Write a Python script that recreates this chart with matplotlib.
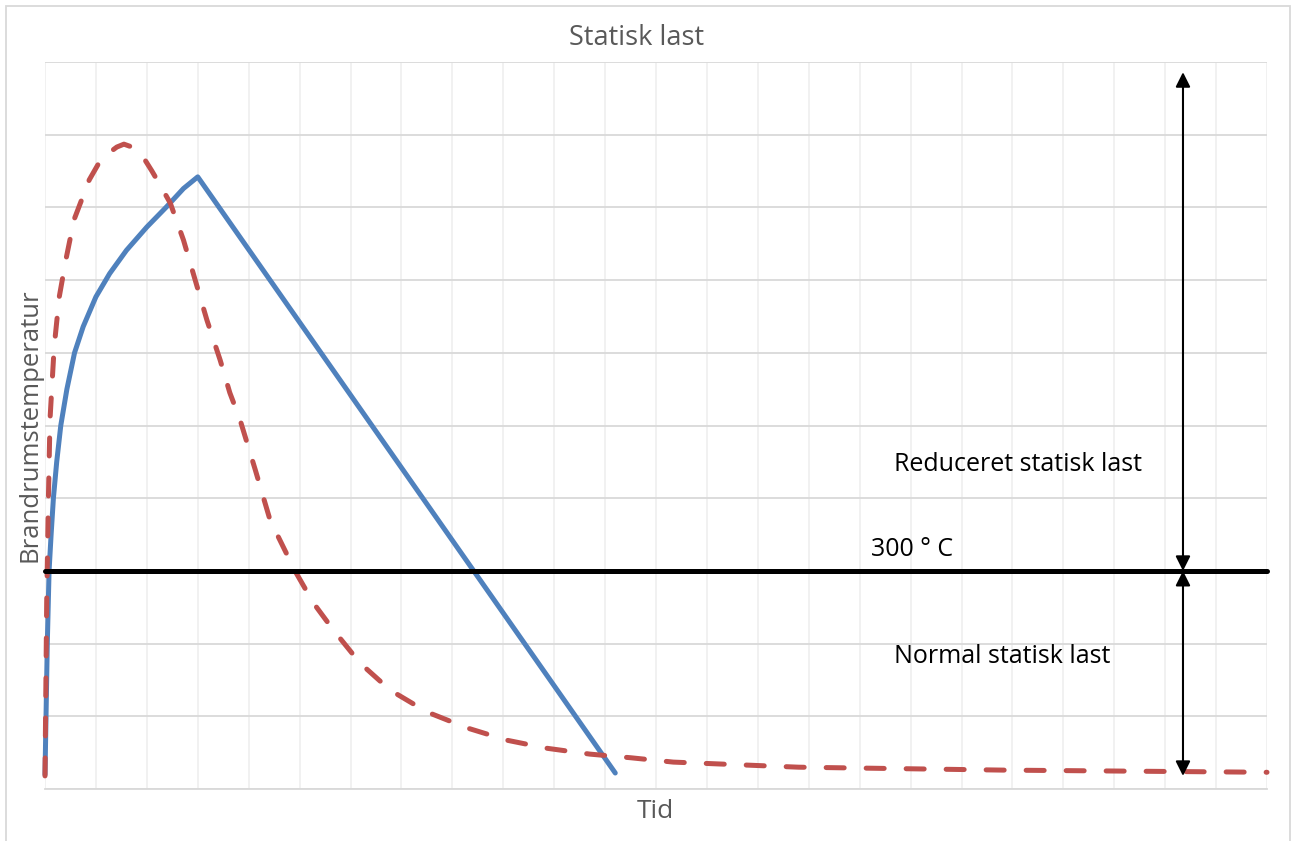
import numpy as np
import matplotlib
matplotlib.use("Agg")
from matplotlib import pyplot as plt
from matplotlib.patches import Rectangle

plt.rcParams['font.family'] = ['Open Sans', 'DejaVu Sans']

# fire curve (solid, blue)
blue_x = [0.0, 0.02, 0.045, 0.08, 0.12, 0.165, 0.23, 0.31, 0.43, 0.58, 0.75,
          1.0, 1.27, 1.6, 2.0, 2.39, 2.72, 3.0, 11.2]
blue_y = [20, 100, 200, 300, 350, 400, 450, 500, 550, 600, 636,
          677, 709, 741, 773, 801, 826, 842, 22]

# dashed (red) curve
red_x = [0.0, 0.033, 0.065, 0.098, 0.18, 0.28, 0.41, 0.57, 0.87, 1.05, 1.2, 1.41,
         1.55, 1.67, 1.8, 1.93, 2.1, 2.25, 2.46, 2.72, 2.95, 3.18, 3.44, 3.63, 3.83,
         4.13, 4.42, 4.91, 5.27, 5.66, 6.19, 6.78, 7.5, 8.29, 9.08, 9.86, 10.7, 11.5,
         12.34, 14.8, 18.8, 24.0]
red_y = [18, 256, 393, 508, 608, 677, 728, 783, 838, 860, 872, 883,
         887, 884, 878, 869, 850, 832, 806, 755, 700, 645, 590, 545, 508,
         439, 370, 300, 256, 219, 173, 136, 106, 84, 67, 56, 48, 43,
         37, 30, 26, 23]

limit_temp = 300
arrow_x = 22.35
arrow_top = 986
arrow_bottom = 18

labels = {
    'Reduceret statisk last': (16.68, 446),
    '300 ° C': (16.23, 329),
    'Normal statisk last': (16.68, 182),
}

fig = plt.figure(figsize=(12.92, 8.41), dpi=100)
ax = fig.add_axes([45 / 1292, 52 / 841, 1222 / 1292, 727 / 841])

ax.set_xlim(0, 24)
ax.set_ylim(0, 1000)
ax.set_xticks(np.arange(0, 25, 1))
ax.set_yticks(np.arange(0, 1001, 100))
ax.tick_params(length=0, labelbottom=False, labelleft=False)
ax.xaxis.grid(True, color='#f0f0f0', lw=1.3)
ax.yaxis.grid(True, color='#d9d9d9', lw=1.3)
ax.set_axisbelow(True)
for s in ['top', 'right', 'left']:
    ax.spines[s].set_visible(False)
ax.spines['bottom'].set_color('#d9d9d9')
ax.spines['bottom'].set_linewidth(1.3)

ax.plot(blue_x, blue_y, color='#4f81bd', lw=3.6, solid_capstyle='round',
        solid_joinstyle='round', clip_on=False, zorder=3)
ax.plot(red_x, red_y, color='#c0504d', lw=3.6, linestyle=(0, (3.6, 4.4)),
        dash_capstyle='round', dash_joinstyle='round', clip_on=False, zorder=3)

ax.plot([0, 24], [limit_temp, limit_temp], color='black', lw=3.6,
        solid_capstyle='round', clip_on=False, zorder=4)

arr = dict(arrowstyle='<|-|>', color='black', lw=1.5, mutation_scale=22,
           shrinkA=0, shrinkB=0)
ax.annotate('', xy=(arrow_x, arrow_top), xytext=(arrow_x, limit_temp),
            arrowprops=arr, zorder=5)
ax.annotate('', xy=(arrow_x, arrow_bottom), xytext=(arrow_x, limit_temp),
            arrowprops=arr, zorder=5)

for txt, (tx, ty) in labels.items():
    ax.text(tx, ty, txt, fontsize=18, color='black', ha='left', va='center')

fig.text(637 / 1292, 1 - 38 / 841, 'Statisk last', fontsize=19.5, color='#595959',
         ha='center', va='center')
fig.text(655 / 1292, 1 - 812 / 841, 'Tid', fontsize=19, color='#595959',
         ha='center', va='center')
fig.text(30 / 1292, 1 - 425 / 841, 'Brandrumstemperatur', fontsize=18.5,
         color='#595959', ha='center', va='center', rotation=90)

# chart frame
fig.patches.append(Rectangle((6 / 1292, -0.01), 1284 / 1292, 1 - 6 / 841 + 0.01,
                             transform=fig.transFigure, fill=False,
                             edgecolor='#d9d9d9', lw=1.3))

fig.savefig('out.png', dpi=100)
